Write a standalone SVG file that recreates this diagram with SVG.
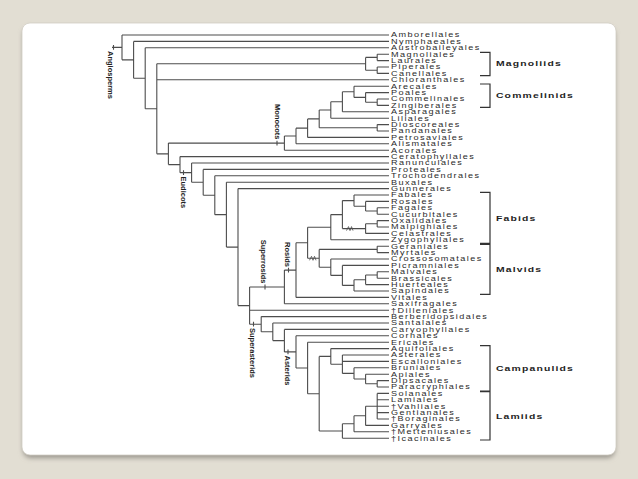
<svg xmlns="http://www.w3.org/2000/svg" width="638" height="479" viewBox="0 0 638 479">
<style>
.ln{fill:none;stroke:#4d4d4d;stroke-width:1.1}
.br{fill:none;stroke:#333;stroke-width:1.2}
.lf{font-family:"Liberation Sans",Arial,sans-serif;font-size:7px;letter-spacing:1.1px;fill:#2a2a2a}
.cl{font-family:"Liberation Sans",Arial,sans-serif;font-size:8px;font-weight:bold;letter-spacing:0.9px;fill:#1e1e1e}
.nl{font-family:"Liberation Sans",Arial,sans-serif;font-size:7.5px;font-weight:bold;fill:#222}
</style>
<defs>
<filter id="sh" x="-5%" y="-5%" width="110%" height="115%"><feGaussianBlur stdDeviation="2.5"/></filter>
</defs>
<rect width="638" height="479" fill="#e2ded3"/>
<rect x="23" y="27" width="592" height="431" rx="8" fill="#9a968e" filter="url(#sh)"/>
<rect x="22" y="23" width="594" height="432" rx="8" fill="#fff" stroke="#d2cec4" stroke-width="0.8"/>

<g id="connectors" class="ln">
<path d="M112,47.4H122M122,35V59.85M122,35H389M122,59.85H133.6M133.6,41.4V78.3M133.6,41.4H389M133.6,78.3H145.2M145.2,47.8V108.8M145.2,47.8H389M145.2,108.8H156.8M156.8,63.8V153.85M156.8,79.8H389"/>
<path d="M156.8,63.8H365.6M365.6,57.4V70.2M365.6,57.4H377.2M377.2,54.2V60.6M377.2,54.2H389M377.2,60.6H389M365.6,70.2H377.2M377.2,67V73.4M377.2,67H389M377.2,73.4H389"/>
<path d="M156.8,153.85H168.4M168.4,143.09V164.6M168.4,143.09H284.4M284.4,135.98V150.2M284.4,150.2H389M284.4,135.98H296M296,128.15V143.8M296,143.8H389M296,128.15H307.6M307.6,118.9V137.4M307.6,137.4H389M307.6,118.9H319.2M319.2,110V127.8M319.2,127.8H377.2M377.2,124.6V131M377.2,124.6H389M377.2,131H389M319.2,110H330.8M330.8,101.8V118.2M330.8,118.2H389M330.8,101.8H342.4M342.4,91.8V111.8M342.4,111.8H389M342.4,91.8H354M354,86.2V97.4M354,86.2H389M354,97.4H365.6M365.6,92.6V102.2M365.6,92.6H389M365.6,102.2H377.2M377.2,99V105.4M377.2,99H389M377.2,105.4H389"/>
<path d="M168.4,164.6H180M180,156.6V172.65M180,156.6H389M180,172.65H191.6M191.6,163V182.3M191.6,163H389M191.6,182.3H203.2M203.2,169.4V195.2M203.2,169.4H389M203.2,195.2H214.8M214.8,175.8V214.65M214.8,175.8H389M214.8,214.65H226.4M226.4,182.2V247.1M226.4,182.2H389M226.4,247.1H238M238,188.6V305.6M238,188.6H389M238,305.6H249.6M249.6,286.94V324.2M249.6,310.2H389"/>
<path d="M249.6,286.94H284.4M284.4,270.08V303.8M284.4,303.8H389M284.4,270.08H296M296,242.75V297.4M296,297.4H389M296,242.75H307.6M307.6,227.2V258.3"/>
<path d="M307.6,227.2H330.8M330.8,214.6V239.8M330.8,239.8H389M330.8,214.6H342.4M342.4,200.6V228.6M342.4,200.6H354M354,195V206.2M354,195H389M354,206.2H365.6M365.6,201.4V211M365.6,201.4H389M365.6,211H377.2M377.2,207.8V214.2M377.2,207.8H389M377.2,214.2H389M342.4,228.6H365.6M365.6,223.8V233.4M365.6,233.4H389M365.6,223.8H377.2M377.2,220.6V227M377.2,220.6H389M377.2,227H389"/>
<path d="M307.6,258.3H319.2M319.2,249.4V267.2M319.2,249.4H377.2M377.2,246.2V252.6M377.2,246.2H389M377.2,252.6H389M319.2,267.2H330.8M330.8,259V275.4M330.8,259H389M330.8,275.4H342.4M342.4,265.4V285.4M342.4,265.4H389M342.4,285.4H354M354,279.8V291M354,291H389M354,279.8H365.6M365.6,275V284.6M365.6,284.6H389M365.6,275H377.2M377.2,271.8V278.2M377.2,271.8H389M377.2,278.2H389"/>
<path d="M249.6,324.2H261.2M261.2,316.6V331.8M261.2,316.6H389M261.2,331.8H272.8M272.8,323V340.6M272.8,323H389M272.8,340.6H284.4M284.4,329.4V351.9M284.4,329.4H389M284.4,351.9H296M296,335.8V367.95M296,335.8H389M296,367.95H307.6M307.6,342.2V393.7M307.6,342.2H389M307.6,393.7H319.2M319.2,356.4V431"/>
<path d="M319.2,356.4H330.8M330.8,348.6V364.2M330.8,348.6H389M330.8,364.2H342.4M342.4,355V373.4M342.4,355H389M342.4,361.4H389M342.4,373.4H354M354,367.8V379M354,367.8H389M354,379H365.6M365.6,374.2V383.8M365.6,374.2H389M365.6,383.8H377.2M377.2,380.6V387M377.2,380.6H389M377.2,387H389"/>
<path d="M319.2,431H342.4M342.4,423.8V438.2M342.4,438.2H389M342.4,423.8H354M354,415.8V431.8M354,431.8H389M354,415.8H365.6M365.6,406.2V425.4M365.6,425.4H389M365.6,406.2H377.2M377.2,393.4V419M377.2,393.4H389M377.2,399.8H389M377.2,406.2H389M377.2,412.6H389M377.2,419H389"/>
<path d="M113.5,45V49.8M277,140.7V145.5M183.5,170.2V175M265,284.5V289.4M288.5,267.7V272.5M253.5,321.8V326.6M288,349.5V354.3"/>
<path d="M346.5,230.6L348.5,226.6L350,230.6L351.5,226.6L353,230.6M309.5,260.3L311.5,256.3L313,260.3L314.5,256.3L316,260.3" stroke-width="0.8"/>
</g>

<g id="brackets" class="br">
<path d="M480,52.3H490V75.7H480M480,84H490V107.3H480M480,192.3H490V243.3H480M480,244.3H490V294.3H480M480,345.7H490V391H480M480,391.7H490V440H480"/>
</g>

<g id="clade-labels" transform="scale(1.3,1)">
<g id="Magnoliids"><text class="cl" x="381.5" y="66.2">Magnoliids</text></g>
<g id="Commelinids"><text class="cl" x="381.5" y="98.1">Commelinids</text></g>
<g id="Fabids"><text class="cl" x="381.5" y="221.1">Fabids</text></g>
<g id="Malvids"><text class="cl" x="381.5" y="272.1">Malvids</text></g>
<g id="Campanulids"><text class="cl" x="381.5" y="370.8">Campanulids</text></g>
<g id="Lamiids"><text class="cl" x="381.5" y="418.8">Lamiids</text></g>
</g>

<g id="node-labels">
<g id="Angiosperms"><text class="nl" transform="translate(108,51) rotate(90)">Angiosperms</text></g>
<g id="Monocots"><text class="nl" text-anchor="end" transform="translate(274.5,139.5) rotate(90)">Monocots</text></g>
<g id="Eudicots"><text class="nl" transform="translate(181,176.5) rotate(90)">Eudicots</text></g>
<g id="Superrosids"><text class="nl" text-anchor="end" transform="translate(260.5,283.5) rotate(90)">Superrosids</text></g>
<g id="Rosids"><text class="nl" text-anchor="end" transform="translate(284.5,267) rotate(90)">Rosids</text></g>
<g id="Superasterids"><text class="nl" transform="translate(250,328) rotate(90)">Superasterids</text></g>
<g id="Asterids"><text class="nl" transform="translate(284.5,355.5) rotate(90)">Asterids</text></g>
</g>

<g id="leaves" class="lf" transform="scale(1.3,1)">
<g id="t1"><text x="300.8" y="37.5">Amborellales</text></g>
<g id="t2"><text x="300.8" y="43.9">Nymphaeales</text></g>
<g id="t3"><text x="300.8" y="50.3">Austrobaileyales</text></g>
<g id="t4"><text x="300.8" y="56.7">Magnoliales</text></g>
<g id="t5"><text x="300.8" y="63.1">Laurales</text></g>
<g id="t6"><text x="300.8" y="69.5">Piperales</text></g>
<g id="t7"><text x="300.8" y="75.9">Canellales</text></g>
<g id="t8"><text x="300.8" y="82.3">Chloranthales</text></g>
<g id="t9"><text x="300.8" y="88.7">Arecales</text></g>
<g id="t10"><text x="300.8" y="95.1">Poales</text></g>
<g id="t11"><text x="300.8" y="101.5">Commelinales</text></g>
<g id="t12"><text x="300.8" y="107.9">Zingiberales</text></g>
<g id="t13"><text x="300.8" y="114.3">Asparagales</text></g>
<g id="t14"><text x="300.8" y="120.7">Liliales</text></g>
<g id="t15"><text x="300.8" y="127.1">Dioscoreales</text></g>
<g id="t16"><text x="300.8" y="133.5">Pandanales</text></g>
<g id="t17"><text x="300.8" y="139.9">Petrosaviales</text></g>
<g id="t18"><text x="300.8" y="146.3">Alismatales</text></g>
<g id="t19"><text x="300.8" y="152.7">Acorales</text></g>
<g id="t20"><text x="300.8" y="159.1">Ceratophyllales</text></g>
<g id="t21"><text x="300.8" y="165.5">Ranunculales</text></g>
<g id="t22"><text x="300.8" y="171.9">Proteales</text></g>
<g id="t23"><text x="300.8" y="178.3">Trochodendrales</text></g>
<g id="t24"><text x="300.8" y="184.7">Buxales</text></g>
<g id="t25"><text x="300.8" y="191.1">Gunnerales</text></g>
<g id="t26"><text x="300.8" y="197.5">Fabales</text></g>
<g id="t27"><text x="300.8" y="203.9">Rosales</text></g>
<g id="t28"><text x="300.8" y="210.3">Fagales</text></g>
<g id="t29"><text x="300.8" y="216.7">Cucurbitales</text></g>
<g id="t30"><text x="300.8" y="223.1">Oxalidales</text></g>
<g id="t31"><text x="300.8" y="229.5">Malpighiales</text></g>
<g id="t32"><text x="300.8" y="235.9">Celastrales</text></g>
<g id="t33"><text x="300.8" y="242.3">Zygophyllales</text></g>
<g id="t34"><text x="300.8" y="248.7">Geraniales</text></g>
<g id="t35"><text x="300.8" y="255.1">Myrtales</text></g>
<g id="t36"><text x="300.8" y="261.5">Crossosomatales</text></g>
<g id="t37"><text x="300.8" y="267.9">Picramniales</text></g>
<g id="t38"><text x="300.8" y="274.3">Malvales</text></g>
<g id="t39"><text x="300.8" y="280.7">Brassicales</text></g>
<g id="t40"><text x="300.8" y="287.1">Huerteales</text></g>
<g id="t41"><text x="300.8" y="293.5">Sapindales</text></g>
<g id="t42"><text x="300.8" y="299.9">Vitales</text></g>
<g id="t43"><text x="300.8" y="306.3">Saxifragales</text></g>
<g id="t44"><text x="300.8" y="312.7">†Dilleniales</text></g>
<g id="t45"><text x="300.8" y="319.1">Berberidopsidales</text></g>
<g id="t46"><text x="300.8" y="325.5">Santalales</text></g>
<g id="t47"><text x="300.8" y="331.9">Caryophyllales</text></g>
<g id="t48"><text x="300.8" y="338.3">Cornales</text></g>
<g id="t49"><text x="300.8" y="344.7">Ericales</text></g>
<g id="t50"><text x="300.8" y="351.1">Aquifoliales</text></g>
<g id="t51"><text x="300.8" y="357.5">Asterales</text></g>
<g id="t52"><text x="300.8" y="363.9">Escalloniales</text></g>
<g id="t53"><text x="300.8" y="370.3">Bruniales</text></g>
<g id="t54"><text x="300.8" y="376.7">Apiales</text></g>
<g id="t55"><text x="300.8" y="383.1">Dipsacales</text></g>
<g id="t56"><text x="300.8" y="389.5">Paracryphiales</text></g>
<g id="t57"><text x="300.8" y="395.9">Solanales</text></g>
<g id="t58"><text x="300.8" y="402.3">Lamiales</text></g>
<g id="t59"><text x="300.8" y="408.7">†Vahliales</text></g>
<g id="t60"><text x="300.8" y="415.1">Gentianales</text></g>
<g id="t61"><text x="300.8" y="421.5">†Boraginales</text></g>
<g id="t62"><text x="300.8" y="427.9">Garryales</text></g>
<g id="t63"><text x="300.8" y="434.3">†Metteniusales</text></g>
<g id="t64"><text x="300.8" y="440.7">†Icacinales</text></g>
</g>
</svg>
